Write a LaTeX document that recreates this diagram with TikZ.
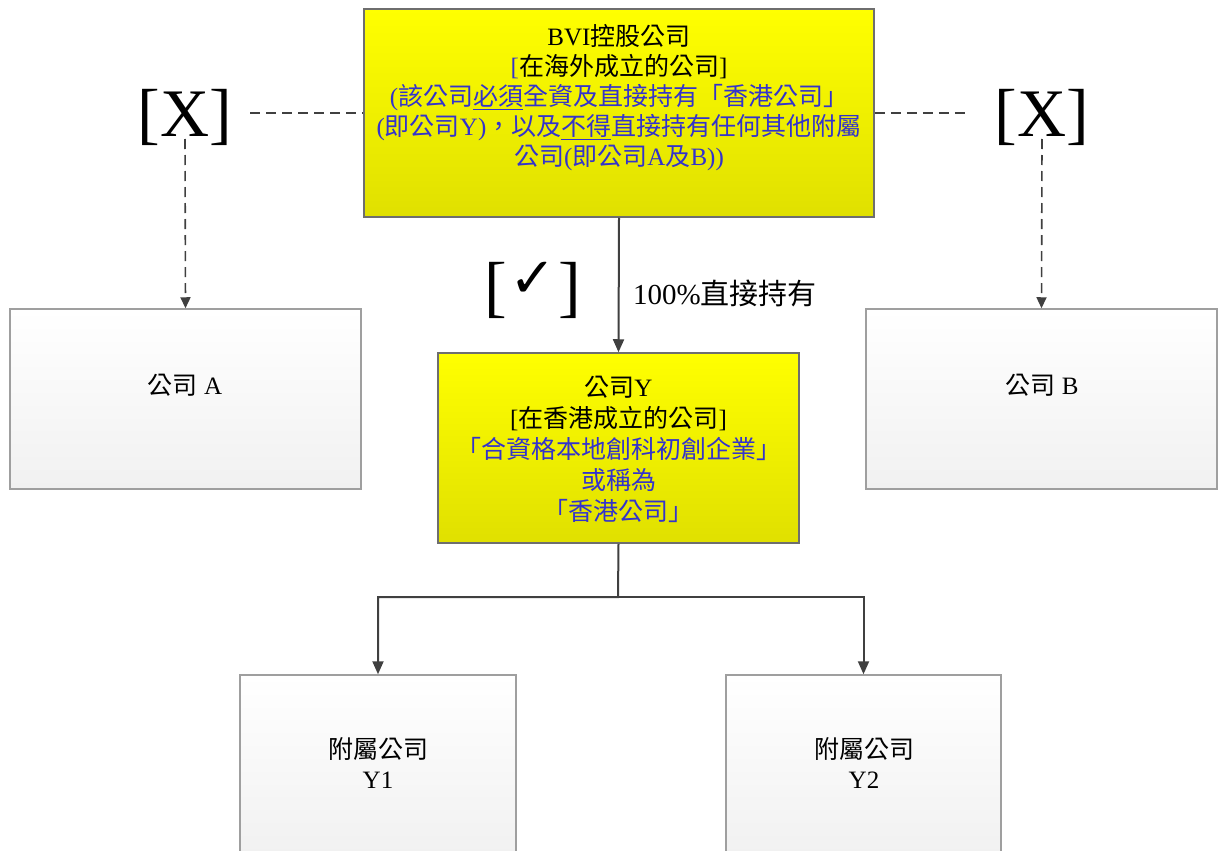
\documentclass[tikz,border=0pt]{standalone}
\usepackage{fontspec}
\setmainfont{Liberation Serif}
\newfontfamily\cjk{Noto Sans CJK TC}
\newfontfamily\sym{DejaVu Sans}
\newcommand\zh[1]{{\cjk #1}}
\usetikzlibrary{arrows.meta}
\definecolor{tblue}{RGB}{51,51,204}
\definecolor{ybot}{RGB}{224,224,0}
\definecolor{bordergray}{RGB}{110,110,110}
\definecolor{connc}{RGB}{64,64,64}
\begin{document}
\begin{tikzpicture}[x=1pt,y=-1pt,
  ybox/.style={draw=bordergray, line width=1.5pt, top color=yellow, bottom color=ybot, inner sep=0pt},
  gbox/.style={draw=gray!75, line width=1.5pt, top color=white, bottom color=gray!11, inner sep=0pt},
  conn/.style={draw=connc, line width=2pt, -{Triangle[length=13pt,width=11pt]}},
  dconn/.style={draw=connc, line width=1.6pt, dash pattern=on 10pt off 6pt},
  darr/.style={dconn, -{Triangle[length=11pt,width=10pt]}},
  txt/.style={align=center, font=\fontsize{25}{30}\selectfont, inner sep=0pt},
  big/.style={font=\fontsize{68}{68}\selectfont, inner sep=0pt}
]
\clip (0,0) rectangle (1218,851);
\fill[white] (0,0) rectangle (1218,851);

% boxes
\node[ybox, minimum width=510pt, minimum height=208pt] (bvi) at (619,113) {};
\node[ybox, minimum width=361pt, minimum height=190pt] (y) at (618.5,448) {};
\node[gbox, minimum width=351pt, minimum height=180pt] (a) at (185.5,399) {};
\node[gbox, minimum width=351pt, minimum height=180pt] (b) at (1041.5,399) {};
\node[gbox, minimum width=276pt, minimum height=180pt] (y1) at (378,765) {};
\node[gbox, minimum width=275pt, minimum height=180pt] (y2) at (863.5,765) {};

% texts
\node[txt] (bvit) at (619,98) {BVI\zh{控股公司}\\
  {\color{tblue}[}\zh{在海外成立的公司}]\\
  {\color{tblue}(\zh{該公司}\underline{\zh{必須}}\zh{全資及直接持有「香港公司」}}\\
  {\color{tblue}(\zh{即公司}Y)\zh{，以及}\underline{\zh{不得}}\zh{直接持有任何其他附屬}}\\
  {\color{tblue}\zh{公司}(\zh{即公司}A\zh{及}B))}};
\node[txt, font=\fontsize{25}{31}\selectfont] (yt) at (618.5,449) {\zh{公司}Y\\
  {[}\zh{在香港成立的公司}]\\
  {\color{tblue}\zh{「合資格本地創科初創企業」}}\\
  {\color{tblue}\zh{或稱為}}\\
  {\color{tblue}\zh{「香港公司」}}};
\node[txt] (at) at (185,385) {\zh{公司} A};
\node[txt] (bt) at (1042,385) {\zh{公司} B};
\node[txt] (y1t) at (378,763) {\zh{附屬公司}\\Y1};
\node[txt] (y2t) at (864,763) {\zh{附屬公司}\\Y2};

% markers
\node[big] (xl) at (185,117) {[X]};
\node[big] (xr) at (1042,117) {[X]};
\node[big] (chk) at (533,290) {[\hspace{2pt}\raisebox{12pt}{\sym\bfseries\fontsize{56}{56}\selectfont ✓}\hspace{2pt}]};
\node[inner sep=0pt, anchor=west, font=\fontsize{29}{29}\selectfont] (pct) at (633,293) {100\%\zh{直接持有}};

% coordinates
\coordinate (xle) at (250,113);
\coordinate (xrw) at (966,113);
\coordinate (xlb) at (185,139);
\coordinate (xrb) at (1042,139);
\coordinate (split) at (618,597);

% connectors
\draw[dconn] (xle) -- (bvi.west);
\draw[dconn] (bvi.east) -- (xrw);
\draw[darr] (xlb) -- (a.north);
\draw[darr] (xrb) -- (b.north);
\draw[conn] (bvi.south) -- (y.north);
\draw[conn] (y.south) -- (split) -| (y1.north);
\draw[conn] (split) -| (y2.north);
\end{tikzpicture}
\end{document}
